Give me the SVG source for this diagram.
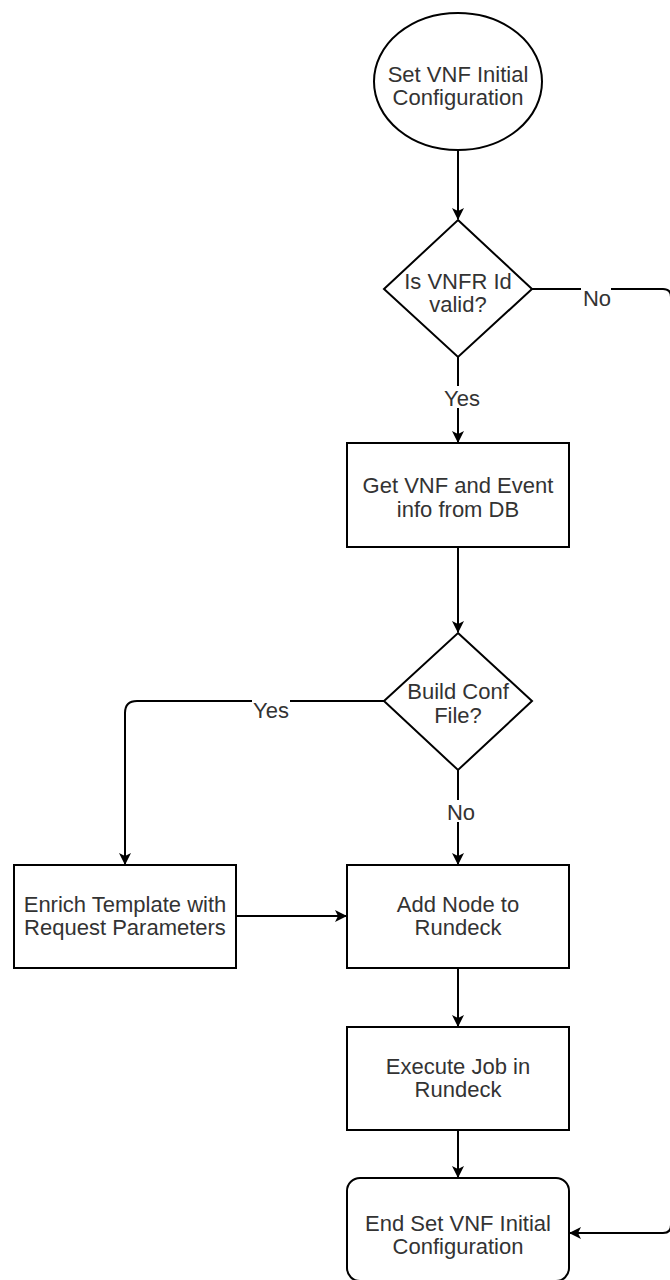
<svg xmlns="http://www.w3.org/2000/svg" width="670" height="1280" viewBox="0 0 670 1280">
<style>
.shape{fill:#fff;stroke:#000;stroke-width:2}
.t{font-family:"Liberation Sans",Arial,sans-serif;font-size:22px;fill:#333;text-anchor:middle}
.c{fill:none;stroke:#000;stroke-width:2}
.bg{fill:#fff;stroke:none}
</style>
<defs>
<marker id="arr" viewBox="0 0 12 12" refX="11" refY="6" markerWidth="12" markerHeight="12" markerUnits="userSpaceOnUse" orient="auto">
<path d="M0,0 L12,6 L0,12 L3,6 Z" fill="#000"/>
</marker>
</defs>
<rect width="670" height="1280" fill="#fff"/>
<g id="connectors">
<path class="c" d="M458,150 L458,219" marker-end="url(#arr)"/>
<path class="c" d="M458,357 L458,442" marker-end="url(#arr)"/>
<path class="c" d="M532,289 L663,289 Q671,289 671,297 L671,1225 Q671,1233 663,1233 L570,1233" marker-end="url(#arr)"/>
<path class="c" d="M458,547 L458,632" marker-end="url(#arr)"/>
<path class="c" d="M384,701 L137,701 Q125,701 125,713 L125,864" marker-end="url(#arr)"/>
<path class="c" d="M458,770 L458,864" marker-end="url(#arr)"/>
<path class="c" d="M236,916 L346,916" marker-end="url(#arr)"/>
<path class="c" d="M458,968 L458,1026" marker-end="url(#arr)"/>
<path class="c" d="M458,1130 L458,1177" marker-end="url(#arr)"/>
<rect class="bg" x="440" y="386" width="36" height="22"/>
<text class="t" x="462" y="406">Yes</text>
<rect class="bg" x="581" y="286" width="30" height="22"/>
<text class="t" x="597" y="306">No</text>
<rect class="bg" x="252" y="698" width="38" height="22"/>
<text class="t" x="271" y="718">Yes</text>
<rect class="bg" x="444" y="800" width="30" height="22"/>
<text class="t" x="461" y="820">No</text>
</g>
<g id="start">
<ellipse class="shape" cx="458" cy="81.5" rx="84" ry="68.5"/>
<text class="t" x="458" y="81.5">Set VNF Initial</text>
<text class="t" x="458" y="104.5">Configuration</text>
</g>
<g id="valid">
<polygon class="shape" points="458,220 532,289 458,357 384,289"/>
<text class="t" x="458" y="289">Is VNFR Id</text>
<text class="t" x="458" y="312">valid?</text>
</g>
<g id="getinfo">
<rect class="shape" x="347" y="443" width="222" height="104"/>
<text class="t" x="458" y="493">Get VNF and Event</text>
<text class="t" x="458" y="517">info from DB</text>
</g>
<g id="buildconf">
<polygon class="shape" points="458,633 532,701 458,770 384,701"/>
<text class="t" x="458" y="699">Build Conf</text>
<text class="t" x="458" y="723">File?</text>
</g>
<g id="enrich">
<rect class="shape" x="14" y="865" width="222" height="103"/>
<text class="t" x="125" y="912">Enrich Template with</text>
<text class="t" x="125" y="935">Request Parameters</text>
</g>
<g id="addnode">
<rect class="shape" x="347" y="865" width="222" height="103"/>
<text class="t" x="458" y="912">Add Node to</text>
<text class="t" x="458" y="935">Rundeck</text>
</g>
<g id="execute">
<rect class="shape" x="347" y="1027" width="222" height="103"/>
<text class="t" x="458" y="1074">Execute Job in</text>
<text class="t" x="458" y="1097">Rundeck</text>
</g>
<g id="end">
<rect class="shape" x="347" y="1178" width="222" height="103" rx="13" ry="13"/>
<text class="t" x="458" y="1231">End Set VNF Initial</text>
<text class="t" x="458" y="1254">Configuration</text>
</g>
</svg>
